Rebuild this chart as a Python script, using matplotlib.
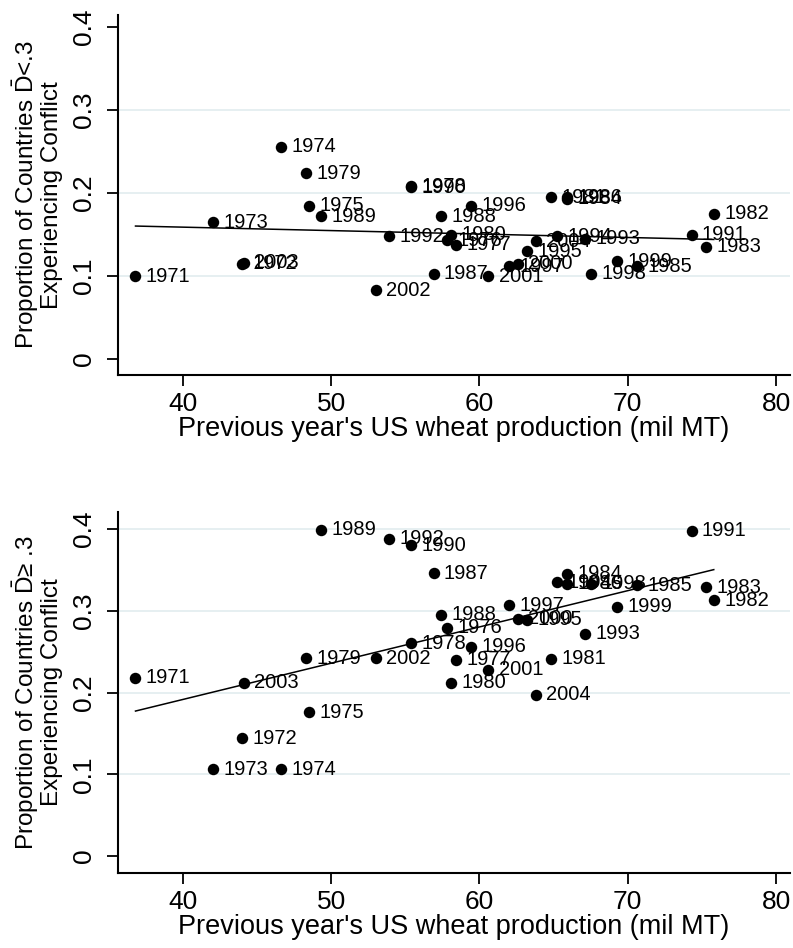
import matplotlib.pyplot as plt
import numpy as np

plt.rcParams["font.family"] = ["Liberation Sans", "DejaVu Sans"]
plt.rcParams["mathtext.fontset"] = "custom"
plt.rcParams["mathtext.rm"] = "Liberation Sans"
plt.rcParams["mathtext.it"] = "Liberation Sans:italic"

# year of observation and previous year's US wheat production (mil MT)
YEARS = list(range(1971, 2005))
WHEAT_PREV = [36.8, 44.0, 42.0, 46.6, 48.5, 57.8, 58.4, 55.4, 48.3, 58.1,
              64.8, 75.8, 75.3, 65.9, 70.6, 65.9, 56.9, 57.4, 49.3, 55.4,
              74.3, 53.9, 67.1, 65.2, 63.2, 59.4, 62.0, 67.5, 69.3, 62.6,
              60.6, 53.0, 44.1, 63.8]

# share of countries experiencing conflict, D-bar < .3
CONFLICT_LOW = [0.100, 0.115, 0.165, 0.256, 0.185, 0.143, 0.138, 0.208, 0.224, 0.150,
                0.195, 0.175, 0.135, 0.193, 0.112, 0.195, 0.103, 0.172, 0.172, 0.207,
                0.150, 0.148, 0.145, 0.148, 0.130, 0.185, 0.112, 0.103, 0.118, 0.115,
                0.100, 0.083, 0.116, 0.142]

# share of countries experiencing conflict, D-bar >= .3
CONFLICT_HIGH = [0.218, 0.144, 0.106, 0.106, 0.176, 0.279, 0.240, 0.260, 0.242, 0.212,
                 0.241, 0.313, 0.329, 0.345, 0.331, 0.333, 0.346, 0.295, 0.399, 0.380,
                 0.398, 0.388, 0.272, 0.335, 0.289, 0.256, 0.307, 0.333, 0.305, 0.290,
                 0.228, 0.242, 0.212, 0.197]

YTICKS = [0, 0.1, 0.2, 0.3, 0.4]
YTICKLABELS = ["0", "0.1", "0.2", "0.3", "0.4"]
XTICKS = [40, 50, 60, 70, 80]
XLABEL = "Previous year's US wheat production (mil MT)"
GRID = "#e4eef0"


def panel(ax, y, ylabel, ylim, grid_at):
    for g in grid_at:
        ax.axhline(g, color=GRID, lw=1.3, zorder=0)
    ax.scatter(WHEAT_PREV, y, s=68, color="black", zorder=3, linewidths=0)
    for yr, xv, yv in zip(YEARS, WHEAT_PREV, y):
        ax.annotate(str(yr), (xv, yv), xytext=(7.5, 0), textcoords="offset points",
                    ha="left", va="center", fontsize=14.5, color="black", zorder=4)
    slope, icpt = np.polyfit(WHEAT_PREV, y, 1)
    xs = np.array([min(WHEAT_PREV), max(WHEAT_PREV)])
    ax.plot(xs, icpt + slope * xs, color="black", lw=1.1, zorder=2)

    ax.set_xlim(35.62, 80.94)
    ax.set_ylim(*ylim)
    ax.set_xticks(XTICKS)
    ax.set_yticks(YTICKS)
    ax.set_yticklabels(YTICKLABELS, rotation=90, va="center")
    ax.tick_params(direction="out", length=8, width=1.3, labelsize=19)
    ax.tick_params(axis="x", pad=4)
    ax.tick_params(axis="y", pad=8)
    ax.spines[["top", "right"]].set_visible(False)
    ax.spines[["left", "bottom"]].set_linewidth(1.5)
    ax.set_xlabel(XLABEL, fontsize=19.5, labelpad=0)
    ax.set_ylabel(ylabel, fontsize=17.5, labelpad=6, linespacing=1.0)


fig = plt.figure(figsize=(7.93, 9.48), dpi=100)
ax1 = fig.add_axes([0.1488, 0.6044, 0.8474, 0.3797])
ax2 = fig.add_axes([0.1488, 0.0791, 0.8474, 0.3808])

panel(ax1, CONFLICT_LOW,
      "Proportion of Countries $\\bar{\\mathrm{D}}$<.3\nExperiencing Conflict",
      (-0.0193, 0.4145), [0.1, 0.2, 0.3])
panel(ax2, CONFLICT_HIGH,
      "Proportion of Countries $\\bar{\\mathrm{D}}$≥ .3\nExperiencing Conflict",
      (-0.0208, 0.4208), [0.1, 0.2, 0.3, 0.4])

fig.savefig("out.png", dpi=100)
